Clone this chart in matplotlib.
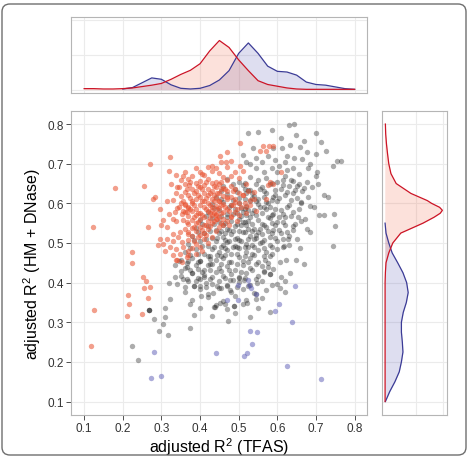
import numpy as np
import matplotlib.pyplot as plt
from matplotlib.patches import FancyBboxPatch

plt.rcParams['font.family'] = ['Liberation Sans', 'DejaVu Sans']
plt.rcParams['mathtext.fontset'] = 'custom'
plt.rcParams['mathtext.rm'] = 'Liberation Sans'
plt.rcParams['mathtext.default'] = 'regular'

# ── Data ──────────────────────────────────────────────────────────────────────

# gray: all other genes
gray_pts = [
    # upper right, sparse
    (0.629, 0.797), (0.643, 0.799), (0.523, 0.777), (0.551, 0.779), (0.586, 0.785), (0.609, 0.765),
    (0.648, 0.772), (0.700, 0.777), (0.713, 0.755), (0.669, 0.758), (0.633, 0.747), (0.536, 0.740),
    (0.512, 0.723), (0.589, 0.740), (0.611, 0.740), (0.659, 0.741), (0.676, 0.729), (0.726, 0.731),
    (0.700, 0.724), (0.754, 0.706), (0.765, 0.708), (0.743, 0.693), (0.643, 0.714), (0.663, 0.712),
    (0.685, 0.699), (0.702, 0.680), (0.700, 0.670), (0.676, 0.655), (0.722, 0.621), (0.732, 0.615),
    (0.685, 0.594), (0.694, 0.590), (0.708, 0.571), (0.722, 0.571), (0.747, 0.573), (0.750, 0.544),
    (0.744, 0.493), (0.672, 0.561), (0.654, 0.565), (0.641, 0.544), (0.676, 0.536), (0.650, 0.510),
    (0.628, 0.510), (0.616, 0.493), (0.659, 0.487), (0.685, 0.527),
    (0.545, 0.715), (0.560, 0.705), (0.575, 0.720), (0.595, 0.710), (0.605, 0.695), (0.620, 0.705),
    (0.625, 0.685), (0.640, 0.690), (0.655, 0.675), (0.600, 0.680), (0.585, 0.690), (0.565, 0.680),
    (0.530, 0.700), (0.545, 0.690), (0.520, 0.705), (0.615, 0.660), (0.635, 0.660), (0.650, 0.645),
    (0.665, 0.630), (0.640, 0.625), (0.680, 0.615), (0.690, 0.640), (0.705, 0.650), (0.660, 0.600),
    (0.625, 0.720), (0.680, 0.690),
    # lower right
    (0.607, 0.451), (0.623, 0.457), (0.649, 0.458), (0.668, 0.447), (0.633, 0.424), (0.620, 0.404),
    (0.607, 0.387), (0.568, 0.457), (0.577, 0.439), (0.580, 0.422), (0.566, 0.430), (0.547, 0.398),
    (0.545, 0.359), (0.545, 0.372), (0.521, 0.348), (0.488, 0.342), (0.488, 0.342), (0.473, 0.304),
    (0.438, 0.338), (0.464, 0.346), (0.451, 0.348), (0.477, 0.381), (0.469, 0.393), (0.453, 0.387),
    (0.433, 0.374), (0.502, 0.414), (0.513, 0.406), (0.477, 0.406),
    # lower left
    (0.268, 0.330), (0.268, 0.330), (0.268, 0.330), (0.225, 0.240), (0.239, 0.204), (0.281, 0.309),
    (0.293, 0.279), (0.305, 0.296), (0.316, 0.268), (0.309, 0.313), (0.309, 0.337), (0.322, 0.359),
    (0.374, 0.347), (0.384, 0.319), (0.374, 0.286), (0.402, 0.365), (0.319, 0.400), (0.360, 0.388),
    (0.384, 0.391), (0.400, 0.391), (0.436, 0.338),
    (0.335, 0.445), (0.350, 0.430), (0.365, 0.440), (0.380, 0.425), (0.395, 0.435), (0.410, 0.420),
    (0.420, 0.445), (0.335, 0.415), (0.355, 0.410), (0.390, 0.405), (0.415, 0.400), (0.430, 0.415),
    (0.345, 0.455), (0.370, 0.455), (0.400, 0.455), (0.425, 0.460),
    # core
    (0.47, 0.662), (0.50, 0.655), (0.53, 0.667), (0.55, 0.658), (0.57, 0.664), (0.60, 0.653), (0.62, 0.668),
    (0.64, 0.657),
    (0.46, 0.643), (0.49, 0.637), (0.51, 0.646), (0.53, 0.634), (0.56, 0.641), (0.58, 0.648), (0.61, 0.636),
    (0.63, 0.644), (0.67, 0.639),
    (0.44, 0.617), (0.47, 0.624), (0.50, 0.613), (0.52, 0.626), (0.54, 0.619), (0.55, 0.611), (0.57, 0.627),
    (0.59, 0.616), (0.62, 0.622), (0.65, 0.614),
    (0.43, 0.598), (0.46, 0.604), (0.48, 0.595), (0.50, 0.602), (0.52, 0.593), (0.53, 0.607), (0.55, 0.598),
    (0.57, 0.603), (0.58, 0.592), (0.60, 0.606), (0.63, 0.597), (0.66, 0.603),
    (0.42, 0.577), (0.45, 0.584), (0.47, 0.573), (0.49, 0.586), (0.51, 0.578), (0.52, 0.571), (0.54, 0.583),
    (0.56, 0.576), (0.57, 0.587), (0.59, 0.574), (0.61, 0.582), (0.64, 0.578),
    (0.40, 0.557), (0.43, 0.563), (0.45, 0.553), (0.47, 0.566), (0.48, 0.556), (0.50, 0.561), (0.51, 0.552),
    (0.53, 0.565), (0.55, 0.557), (0.56, 0.548), (0.58, 0.562), (0.60, 0.554), (0.62, 0.566), (0.66, 0.556),
    (0.39, 0.537), (0.42, 0.544), (0.44, 0.533), (0.46, 0.546), (0.47, 0.536), (0.49, 0.542), (0.50, 0.531),
    (0.52, 0.545), (0.54, 0.536), (0.55, 0.528), (0.57, 0.541), (0.59, 0.534), (0.62, 0.546), (0.64, 0.532),
    (0.38, 0.517), (0.41, 0.524), (0.43, 0.513), (0.45, 0.526), (0.46, 0.516), (0.48, 0.522), (0.49, 0.511),
    (0.51, 0.527), (0.53, 0.518), (0.54, 0.509), (0.56, 0.523), (0.58, 0.514), (0.61, 0.526), (0.63, 0.517),
    (0.37, 0.497), (0.40, 0.504), (0.42, 0.493), (0.44, 0.506), (0.46, 0.495), (0.47, 0.503), (0.49, 0.492),
    (0.50, 0.507), (0.52, 0.498), (0.54, 0.489), (0.56, 0.502), (0.58, 0.496), (0.60, 0.505), (0.63, 0.494),
    (0.36, 0.477), (0.39, 0.484), (0.41, 0.473), (0.43, 0.486), (0.45, 0.476), (0.47, 0.483), (0.48, 0.472),
    (0.50, 0.487), (0.52, 0.478), (0.54, 0.469), (0.55, 0.482), (0.57, 0.476), (0.60, 0.484),
    (0.35, 0.457), (0.38, 0.463), (0.40, 0.454), (0.42, 0.466), (0.44, 0.456), (0.46, 0.462), (0.48, 0.451),
    (0.50, 0.465), (0.51, 0.455), (0.53, 0.461), (0.55, 0.452), (0.58, 0.466),
    (0.36, 0.437), (0.39, 0.444), (0.41, 0.433), (0.43, 0.446), (0.45, 0.436), (0.47, 0.443), (0.49, 0.432),
    (0.51, 0.445), (0.53, 0.436), (0.56, 0.442), (0.59, 0.434),
    (0.35, 0.417), (0.38, 0.424), (0.41, 0.413), (0.44, 0.426), (0.46, 0.416), (0.48, 0.422), (0.50, 0.411),
    (0.52, 0.425), (0.55, 0.416), (0.58, 0.423), (0.61, 0.414),
    (0.34, 0.397), (0.37, 0.404), (0.40, 0.408), (0.43, 0.396), (0.45, 0.403), (0.47, 0.392), (0.50, 0.401),
    (0.53, 0.394), (0.56, 0.405), (0.60, 0.396),
    (0.36, 0.377), (0.40, 0.383), (0.42, 0.372), (0.45, 0.386), (0.48, 0.376), (0.51, 0.383), (0.54, 0.374),
    (0.57, 0.381), (0.62, 0.376),
    (0.38, 0.357), (0.42, 0.363), (0.46, 0.354), (0.49, 0.366), (0.52, 0.356), (0.56, 0.362),
    (0.40, 0.337), (0.44, 0.343), (0.47, 0.334), (0.51, 0.345), (0.55, 0.336),
    (0.43, 0.317), (0.49, 0.323), (0.53, 0.314), (0.58, 0.326),
    (0.485, 0.530), (0.505, 0.545), (0.525, 0.555), (0.515, 0.585), (0.535, 0.575), (0.555, 0.590),
    (0.545, 0.605), (0.565, 0.615), (0.495, 0.575), (0.525, 0.535), (0.545, 0.520), (0.565, 0.545),
    (0.575, 0.565), (0.505, 0.505), (0.485, 0.490), (0.525, 0.490), (0.555, 0.500), (0.595, 0.545),
    (0.585, 0.525), (0.605, 0.565), (0.535, 0.625), (0.555, 0.635), (0.515, 0.635), (0.575, 0.600),
    (0.595, 0.620), (0.465, 0.525), (0.475, 0.505), (0.455, 0.490), (0.445, 0.470), (0.465, 0.470),
    # core, in-between rows
    (0.485, 0.650), (0.515, 0.652), (0.545, 0.648), (0.585, 0.651), (0.615, 0.647), (0.655, 0.650),
    (0.455, 0.630), (0.495, 0.628), (0.525, 0.633), (0.565, 0.630), (0.595, 0.634), (0.625, 0.629),
    (0.645, 0.633),
    (0.455, 0.612), (0.485, 0.608), (0.515, 0.611), (0.535, 0.613), (0.585, 0.608), (0.605, 0.613),
    (0.635, 0.609),
    (0.435, 0.589), (0.475, 0.592), (0.505, 0.588), (0.525, 0.584), (0.565, 0.591), (0.595, 0.587),
    (0.625, 0.590), (0.655, 0.586),
    (0.415, 0.569), (0.455, 0.568), (0.485, 0.572), (0.505, 0.567), (0.545, 0.570), (0.585, 0.571),
    (0.615, 0.573), (0.635, 0.568),
    (0.405, 0.547), (0.435, 0.549), (0.465, 0.551), (0.495, 0.548), (0.515, 0.553), (0.535, 0.548),
    (0.585, 0.551), (0.615, 0.554), (0.645, 0.548),
    (0.395, 0.528), (0.425, 0.531), (0.455, 0.529), (0.475, 0.533), (0.515, 0.528), (0.535, 0.531),
    (0.555, 0.536), (0.575, 0.529), (0.605, 0.532), (0.625, 0.528),
    (0.385, 0.508), (0.415, 0.509), (0.445, 0.513), (0.465, 0.508), (0.495, 0.512), (0.525, 0.509),
    (0.545, 0.513), (0.565, 0.508), (0.595, 0.512), (0.615, 0.509),
    (0.375, 0.488), (0.405, 0.492), (0.435, 0.489), (0.465, 0.487), (0.495, 0.491), (0.515, 0.489),
    (0.535, 0.494), (0.565, 0.488), (0.585, 0.491), (0.615, 0.489),
    (0.375, 0.469), (0.395, 0.471), (0.425, 0.468), (0.455, 0.466), (0.495, 0.471), (0.515, 0.467),
    (0.535, 0.472), (0.565, 0.466), (0.585, 0.472),
    (0.365, 0.449), (0.395, 0.451), (0.425, 0.448), (0.455, 0.447), (0.475, 0.452), (0.495, 0.448),
    (0.525, 0.451), (0.545, 0.446), (0.575, 0.449),
    (0.375, 0.431), (0.405, 0.428), (0.425, 0.433), (0.455, 0.429), (0.475, 0.431), (0.505, 0.427),
    (0.535, 0.432), (0.565, 0.428),
    (0.365, 0.409), (0.395, 0.412), (0.425, 0.408), (0.465, 0.411), (0.485, 0.407), (0.515, 0.412),
    (0.545, 0.409),
    (0.385, 0.392), (0.415, 0.389), (0.445, 0.391), (0.495, 0.388), (0.525, 0.391), (0.585, 0.393),
]

# orange: HM + DNase better explained
orange_pts = [
    (0.122, 0.540), (0.117, 0.241), (0.125, 0.330), (0.179, 0.639), (0.270, 0.699), (0.322, 0.716),
    (0.256, 0.643), (0.319, 0.681), (0.338, 0.672), (0.279, 0.611), (0.284, 0.615), (0.264, 0.541),
    (0.223, 0.477), (0.225, 0.449), (0.253, 0.414), (0.260, 0.405), (0.255, 0.387), (0.270, 0.390),
    (0.213, 0.368), (0.216, 0.346), (0.266, 0.361), (0.210, 0.316), (0.251, 0.320), (0.341, 0.457),
    (0.296, 0.586), (0.315, 0.607), (0.338, 0.626), (0.372, 0.646), (0.430, 0.695), (0.404, 0.674),
    (0.503, 0.752), (0.562, 0.745), (0.571, 0.733), (0.579, 0.744), (0.590, 0.744), (0.555, 0.733),
    (0.470, 0.730), (0.452, 0.720), (0.479, 0.708), (0.467, 0.704), (0.453, 0.704), (0.503, 0.695),
    (0.512, 0.682), (0.610, 0.678), (0.581, 0.653), (0.590, 0.649), (0.577, 0.646),
    (0.350, 0.601), (0.361, 0.595), (0.369, 0.588), (0.367, 0.578), (0.352, 0.574), (0.335, 0.577),
    (0.320, 0.573), (0.330, 0.561), (0.339, 0.555), (0.355, 0.557), (0.365, 0.552), (0.305, 0.557),
    (0.299, 0.546), (0.315, 0.540), (0.361, 0.536), (0.348, 0.527), (0.331, 0.523), (0.368, 0.523),
    (0.344, 0.515), (0.296, 0.511), (0.315, 0.510), (0.329, 0.505), (0.352, 0.502), (0.305, 0.498),
    (0.290, 0.494), (0.322, 0.490), (0.339, 0.485), (0.356, 0.490), (0.369, 0.481), (0.309, 0.481),
    (0.331, 0.470), (0.348, 0.472), (0.365, 0.464), (0.339, 0.456), (0.352, 0.453),
    (0.39, 0.690), (0.42, 0.692), (0.44, 0.688), (0.47, 0.691),
    (0.36, 0.680), (0.40, 0.678), (0.43, 0.682), (0.45, 0.676), (0.49, 0.679),
    (0.38, 0.668), (0.41, 0.671), (0.46, 0.666), (0.48, 0.670),
    (0.35, 0.659), (0.37, 0.662), (0.40, 0.657), (0.42, 0.661), (0.44, 0.655), (0.47, 0.660), (0.50, 0.663),
    (0.36, 0.648), (0.39, 0.651), (0.41, 0.646), (0.43, 0.652), (0.45, 0.648), (0.48, 0.645), (0.52, 0.650),
    (0.34, 0.640), (0.38, 0.637), (0.40, 0.642), (0.42, 0.635), (0.44, 0.641), (0.46, 0.638), (0.49, 0.636),
    (0.36, 0.628), (0.39, 0.632), (0.41, 0.626), (0.43, 0.630), (0.45, 0.625), (0.47, 0.631), (0.50, 0.627),
    (0.54, 0.629),
    (0.35, 0.618), (0.37, 0.622), (0.40, 0.616), (0.42, 0.620), (0.44, 0.614), (0.46, 0.619), (0.48, 0.617),
    (0.51, 0.621),
    (0.33, 0.609), (0.38, 0.607), (0.39, 0.612), (0.41, 0.605), (0.43, 0.611), (0.45, 0.606), (0.47, 0.610),
    (0.49, 0.604), (0.53, 0.608), (0.57, 0.612),
    (0.36, 0.598), (0.38, 0.601), (0.40, 0.596), (0.42, 0.600), (0.44, 0.594), (0.46, 0.599), (0.48, 0.597),
    (0.50, 0.602),
    (0.34, 0.588), (0.37, 0.591), (0.39, 0.586), (0.41, 0.590), (0.43, 0.584), (0.45, 0.589), (0.47, 0.587),
    (0.52, 0.591),
    (0.36, 0.578), (0.38, 0.581), (0.40, 0.576), (0.42, 0.580), (0.44, 0.574), (0.46, 0.579), (0.49, 0.577),
    (0.37, 0.568), (0.39, 0.571), (0.41, 0.566), (0.43, 0.570), (0.45, 0.565), (0.48, 0.569),
    (0.38, 0.558), (0.40, 0.561), (0.42, 0.556), (0.44, 0.560), (0.47, 0.555),
    (0.37, 0.548), (0.39, 0.551), (0.41, 0.546), (0.43, 0.550), (0.46, 0.545),
    (0.38, 0.538), (0.40, 0.541), (0.42, 0.536), (0.45, 0.540),
    (0.37, 0.528), (0.39, 0.531), (0.41, 0.526), (0.44, 0.530),
    (0.38, 0.518), (0.40, 0.521), (0.43, 0.516),
    (0.37, 0.508), (0.41, 0.511), (0.39, 0.498), (0.42, 0.501), (0.38, 0.488), (0.40, 0.491),
    (0.37, 0.470), (0.39, 0.473),
    (0.445, 0.585), (0.455, 0.575), (0.465, 0.590), (0.475, 0.580), (0.485, 0.595), (0.495, 0.585),
    (0.505, 0.590), (0.515, 0.600), (0.450, 0.605), (0.470, 0.615), (0.490, 0.610), (0.510, 0.620),
    (0.460, 0.560), (0.480, 0.565), (0.500, 0.570), (0.520, 0.575), (0.455, 0.550), (0.475, 0.545),
    (0.495, 0.555), (0.440, 0.570), (0.430, 0.590), (0.425, 0.575), (0.435, 0.605), (0.445, 0.625),
    (0.465, 0.635), (0.485, 0.630), (0.530, 0.595), (0.540, 0.610), (0.525, 0.630), (0.545, 0.580),
    (0.375, 0.655), (0.395, 0.645), (0.415, 0.655), (0.435, 0.645), (0.455, 0.655), (0.365, 0.635),
    (0.385, 0.625), (0.405, 0.635), (0.425, 0.625), (0.455, 0.635), (0.375, 0.613), (0.395, 0.620),
    (0.415, 0.613), (0.435, 0.620), (0.355, 0.605), (0.385, 0.595), (0.405, 0.605), (0.425, 0.595),
    (0.455, 0.595), (0.375, 0.585), (0.395, 0.575), (0.415, 0.585), (0.435, 0.575), (0.355, 0.580),
    (0.385, 0.565), (0.405, 0.570), (0.425, 0.563), (0.445, 0.560), (0.395, 0.553), (0.415, 0.545),
    (0.435, 0.555), (0.385, 0.540), (0.405, 0.533), (0.425, 0.543), (0.395, 0.515), (0.415, 0.520),
    (0.385, 0.505), (0.405, 0.480), (0.345, 0.640), (0.355, 0.668), (0.325, 0.650), (0.345, 0.590),
]

# purple: TFAS better explained
purple_pts = [
    (0.281, 0.224), (0.272, 0.159), (0.298, 0.165), (0.440, 0.223), (0.646, 0.391), (0.605, 0.346),
    (0.593, 0.329), (0.639, 0.300), (0.529, 0.279), (0.547, 0.276), (0.534, 0.244), (0.522, 0.223),
    (0.514, 0.214), (0.624, 0.189), (0.713, 0.158), (0.499, 0.393), (0.527, 0.395), (0.531, 0.386),
    (0.544, 0.372), (0.499, 0.355), (0.470, 0.357), (0.525, 0.407),
]

# marginal density of x (TFAS)
top_x_red = [0.100, 0.125, 0.150, 0.175, 0.200, 0.225, 0.250, 0.275, 0.300, 0.325, 0.350, 0.375,
             0.400, 0.425, 0.450, 0.475, 0.500, 0.525, 0.550, 0.575, 0.600, 0.625, 0.650, 0.675,
             0.700, 0.725, 0.750, 0.775, 0.800]
top_red = [0.03, 0.03, 0.02, 0.02, 0.03, 0.05, 0.09, 0.13, 0.18, 0.30, 0.44, 0.56,
           0.75, 1.12, 1.42, 1.22, 0.86, 0.55, 0.26, 0.15, 0.10, 0.05, 0.02, 0.01,
           0.01, 0.01, 0.01, 0.01, 0.01]
top_x_blue = [0.200, 0.225, 0.250, 0.275, 0.300, 0.325, 0.350, 0.375, 0.400, 0.425, 0.450, 0.475,
              0.500, 0.525, 0.550, 0.575, 0.600, 0.625, 0.650, 0.675, 0.700, 0.725, 0.750, 0.775,
              0.800]
top_blue = [0.02, 0.06, 0.20, 0.34, 0.30, 0.14, 0.04, 0.02, 0.04, 0.12, 0.28, 0.55,
            1.05, 1.35, 1.05, 0.68, 0.53, 0.51, 0.42, 0.22, 0.15, 0.13, 0.08, 0.03,
            0.01]

# marginal density of y (HM + DNase)
right_y_red = [0.100, 0.150, 0.200, 0.250, 0.300, 0.350, 0.400, 0.425, 0.450, 0.475, 0.500, 0.525,
               0.550, 0.565, 0.575, 0.5825, 0.590, 0.600, 0.607, 0.625, 0.650, 0.675, 0.700, 0.725,
               0.750, 0.775, 0.800]
right_red = [0.01, 0.01, 0.01, 0.01, 0.01, 0.01, 0.01, 0.02, 0.04, 0.13, 0.26, 0.52,
             1.24, 1.60, 1.80, 1.87, 1.78, 1.52, 1.38, 0.85, 0.37, 0.20, 0.13, 0.09,
             0.055, 0.03, 0.02]
right_y_blue = [0.100, 0.125, 0.150, 0.175, 0.200, 0.225, 0.250, 0.275, 0.300, 0.325, 0.350, 0.375,
                0.400, 0.425, 0.450, 0.475, 0.500, 0.525, 0.550]
right_blue = [0.02, 0.16, 0.33, 0.47, 0.54, 0.59, 0.57, 0.54, 0.54, 0.60, 0.70, 0.76,
              0.71, 0.59, 0.42, 0.24, 0.13, 0.04, 0.01]

ticks = [0.1, 0.2, 0.3, 0.4, 0.5, 0.6, 0.7, 0.8]

# ── Styling ──────────────────────────────────────────────────────────────────

RED_LINE, RED_FILL = '#cc1426', '#f26b4c'
BLUE_LINE, BLUE_FILL = '#3b3b96', '#5c5cb8'
GRID = '#ebebeb'
BORDER = '#b5b5b5'
XLIM, YLIM = (0.066, 0.832), (0.066, 0.833)

fig = plt.figure(figsize=(4.68, 4.60), dpi=100)
W, H = 468, 460


def px_axes(l, t, r, b):
    return fig.add_axes([l / W, 1 - b / H, (r - l) / W, (b - t) / H])


def frame(a):
    for s in a.spines.values():
        s.set_color(BORDER)
        s.set_linewidth(0.8)
    a.set_axisbelow(True)


ax = px_axes(71, 112, 367, 416)
ax_top = px_axes(71, 18, 367, 94)
ax_right = px_axes(382, 112, 447, 416)

# main scatter
g = np.array(gray_pts)
o = np.array(orange_pts)
p = np.array(purple_pts)
ax.scatter(g[:, 0], g[:, 1], s=15, c='#1e1e1e', alpha=0.37, linewidths=0)
ax.scatter(o[:, 0], o[:, 1], s=15, c='#e8502e', alpha=0.55, linewidths=0)
ax.scatter(p[:, 0], p[:, 1], s=15, c='#5a5ab4', alpha=0.5, linewidths=0)
ax.set_xlim(XLIM)
ax.set_ylim(YLIM)
ax.set_xticks(ticks)
ax.set_yticks(ticks)
ax.grid(True, color=GRID, lw=0.8)
ax.tick_params(length=3.5, width=0.6, color='#333333', labelsize=8.5, labelcolor='#333333', pad=1.5)
ax.set_xlabel('adjusted R$^2$ (TFAS)', fontsize=11.5, labelpad=1)
ax.set_ylabel('adjusted R$^2$ (HM + DNase)', fontsize=11.5, labelpad=3)
frame(ax)

# top marginal
ax_top.fill_between(top_x_blue, top_blue, color=BLUE_FILL, alpha=0.2, lw=0)
ax_top.fill_between(top_x_red, top_red, color=RED_FILL, alpha=0.2, lw=0)
ax_top.plot(top_x_blue, top_blue, color=BLUE_LINE, lw=0.9)
ax_top.plot(top_x_red, top_red, color=RED_LINE, lw=0.9)
ax_top.set_xlim(XLIM)
ax_top.set_ylim(-0.096, 2.1)
ax_top.set_xticks(ticks)
ax_top.set_yticks([0, 1, 2])
ax_top.grid(True, color=GRID, lw=0.8)
ax_top.tick_params(length=0, labelbottom=False, labelleft=False)
frame(ax_top)

# right marginal
ax_right.fill_betweenx(right_y_blue, right_blue, color=BLUE_FILL, alpha=0.2, lw=0)
ax_right.fill_betweenx(right_y_red, right_red, color=RED_FILL, alpha=0.2, lw=0)
ax_right.plot(right_blue, right_y_blue, color=BLUE_LINE, lw=0.9)
ax_right.plot(right_red, right_y_red, color=RED_LINE, lw=0.9)
ax_right.set_ylim(YLIM)
ax_right.set_xlim(-0.09, 2.02)
ax_right.set_yticks(ticks)
ax_right.set_xticks([1.0, 1.9])
ax_right.grid(True, color=GRID, lw=0.8)
ax_right.tick_params(length=0, labelbottom=False, labelleft=False)
frame(ax_right)

# rounded outer frame
fig.patches.append(FancyBboxPatch((2 / W, 4 / H), 464 / W, 451 / H,
                                  boxstyle='round,pad=0,rounding_size=0.017',
                                  transform=fig.transFigure, fill=False,
                                  ec='#6e6e6e', lw=1.0))

fig.savefig('out.png', dpi=100)
